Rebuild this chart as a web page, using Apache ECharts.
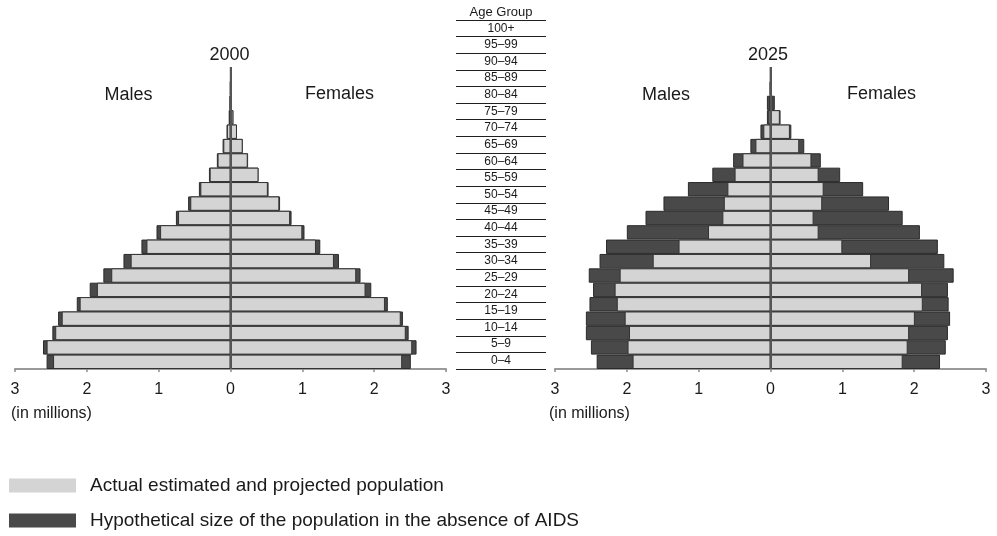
<!DOCTYPE html>
<html>
<head>
<meta charset="utf-8">
<script src="https://cdn.jsdelivr.net/npm/echarts@6/dist/echarts.min.js"></script>
<style>
  html, body { margin: 0; padding: 0; background: #ffffff; }
  #chart { width: 997px; height: 536px; }
</style>
</head>
<body>
<div id="chart"></div>
<script>
// Age groups, bottom (youngest) to top (oldest)
const ageGroups = ['0–4','5–9','10–14','15–19','20–24','25–29','30–34','35–39','40–44','45–49','50–54','55–59','60–64','65–69','70–74','75–79','80–84','85–89','90–94','95–99','100+'];

// 2000 (millions)
const male2000Actual   = [2.47, 2.56, 2.44, 2.35, 2.10, 1.86, 1.66, 1.39, 1.17, 0.98, 0.73, 0.56, 0.42, 0.29, 0.18, 0.10, 0.05, 0.02, 0.008, 0.003, 0.001];
const male2000NoAids   = [2.56, 2.61, 2.48, 2.40, 2.14, 1.96, 1.77, 1.49, 1.24, 1.03, 0.76, 0.59, 0.44, 0.30, 0.19, 0.11, 0.055, 0.025, 0.01, 0.004, 0.001];
const female2000Actual = [2.39, 2.53, 2.44, 2.37, 2.15, 1.88, 1.75, 1.44, 1.19, 1.00, 0.83, 0.68, 0.52, 0.39, 0.24, 0.17, 0.09, 0.04, 0.015, 0.005, 0.002];
const female2000NoAids = [2.51, 2.59, 2.48, 2.40, 2.19, 1.96, 1.81, 1.51, 1.25, 1.03, 0.85, 0.69, 0.53, 0.39, 0.245, 0.17, 0.09, 0.04, 0.015, 0.005, 0.002];

// 2025 (millions)
const male2025Actual   = [1.92, 1.99, 1.97, 2.03, 2.14, 2.17, 2.10, 1.64, 1.28, 0.87, 0.67, 0.65, 0.60, 0.50, 0.39, 0.21, 0.10, 0.03, 0.02, 0.005, 0.002];
const male2025NoAids   = [2.42, 2.50, 2.57, 2.57, 2.52, 2.47, 2.53, 2.38, 2.29, 2.00, 1.74, 1.49, 1.15, 0.81, 0.52, 0.28, 0.14, 0.05, 0.05, 0.008, 0.003];
const female2025Actual = [1.84, 1.91, 1.93, 2.01, 2.12, 2.11, 1.93, 1.40, 1.00, 0.67, 0.60, 0.72, 0.74, 0.67, 0.57, 0.40, 0.27, 0.13, 0.03, 0.01, 0.003];
const female2025NoAids = [2.36, 2.44, 2.47, 2.50, 2.48, 2.47, 2.55, 2.42, 2.33, 2.08, 1.84, 1.65, 1.29, 0.97, 0.70, 0.47, 0.29, 0.14, 0.06, 0.012, 0.004];

const ACTUAL = 'Actual estimated and projected population';
const NOAIDS = 'Hypothetical size of the population in the absence of AIDS';

const FONT = '"Liberation Sans", Arial, Helvetica, sans-serif';
const LIGHT = '#d4d4d4';
const DARK = '#494949';
const TXT = '#1a1a1a';

const chart = echarts.init(document.getElementById('chart'), null, { renderer: 'canvas' });

function xAxisFor(gridIndex) {
  return {
    type: 'value', gridIndex: gridIndex, min: -3, max: 3, interval: 1,
    axisLine: { show: true, onZero: false, lineStyle: { color: '#9a9a9a', width: 2 } },
    axisTick: { show: true, length: 3, lineStyle: { color: '#8a8a8a', width: 1.5 } },
    axisLabel: { color: TXT, fontSize: 16, fontFamily: FONT, margin: 13, formatter: v => String(Math.abs(v)) },
    splitLine: { show: false }
  };
}
function yAxisFor(gridIndex) {
  return {
    type: 'category', gridIndex: gridIndex, data: ageGroups,
    axisLine: { show: false }, axisTick: { show: false }, axisLabel: { show: false },
    splitLine: { show: false }
  };
}
function barSeries(name, axisIdx, values, sign, isDark, withCenter) {
  const s = {
    name: name, type: 'bar', xAxisIndex: axisIdx, yAxisIndex: axisIdx,
    data: values.map(v => sign * v),
    barGap: '-100%', barCategoryGap: '0%',
    itemStyle: {
      color: isDark ? DARK : LIGHT,
      borderColor: isDark ? '#2b2b2b' : '#333333',
      borderWidth: 1
    },
    emphasis: { disabled: true },
    silent: true
  };
  if (withCenter) {
    s.markLine = {
      silent: true, symbol: 'none', animation: false,
      label: { show: false },
      lineStyle: { color: '#555555', width: 2, type: 'solid' },
      data: [{ xAxis: 0 }]
    };
  }
  return s;
}

function txt(text, x, y, size, align) {
  return {
    type: 'text', x: x, y: y, silent: true,
    style: { text: text, fill: TXT, font: size + 'px ' + FONT, textAlign: align || 'center', textVerticalAlign: 'middle' }
  };
}

const option = {
  animation: false,
  backgroundColor: '#ffffff',
  textStyle: { fontFamily: FONT },
  grid: [
    { left: 15, top: 67, width: 431, height: 302 },
    { left: 555, top: 67, width: 431, height: 302 },
    { left: 456, top: 20, width: 90, height: 349 }
  ],
  xAxis: [
    xAxisFor(0),
    xAxisFor(1),
    { type: 'value', gridIndex: 2, show: false, min: 0, max: 1 }
  ],
  yAxis: [
    yAxisFor(0),
    yAxisFor(1),
    {
      type: 'category', gridIndex: 2, data: ageGroups,
      axisLine: { show: false }, axisTick: { show: false },
      axisLabel: { inside: true, margin: 45, align: 'center', color: TXT, fontSize: 12, fontFamily: FONT },
      splitLine: { show: true, lineStyle: { color: '#1f1f1f', width: 1.2 } }
    }
  ],
  legend: {
    orient: 'vertical', left: 9, top: 476, height: 120, width: 700, padding: 0,
    itemWidth: 67, itemHeight: 14, itemGap: 16,
    icon: 'rect',
    selectedMode: false,
    itemStyle: { borderWidth: 0 },
    textStyle: { color: TXT, fontSize: 19, lineHeight: 14, fontFamily: FONT, padding: [0, 0, 0, 9] },
    data: [
      { name: ACTUAL, itemStyle: { color: LIGHT, borderWidth: 0 } },
      { name: NOAIDS, itemStyle: { color: DARK, borderWidth: 0 } }
    ]
  },
  graphic: [
    txt('2000', 229.5, 55, 18),
    txt('Males', 128.5, 95, 18),
    txt('Females', 339.5, 94, 18),
    txt('2025', 768, 55, 18),
    txt('Males', 666, 95, 18),
    txt('Females', 881.5, 94, 18),
    txt('(in millions)', 11, 414, 16, 'left'),
    txt('(in millions)', 549, 414, 16, 'left'),
    txt('Age Group', 501, 12, 13)
  ],
  series: [
    barSeries(NOAIDS, 0, male2000NoAids, -1, true, false),
    barSeries(NOAIDS, 0, female2000NoAids, 1, true, false),
    barSeries(ACTUAL, 0, male2000Actual, -1, false, false),
    barSeries(ACTUAL, 0, female2000Actual, 1, false, true),
    barSeries(NOAIDS, 1, male2025NoAids, -1, true, false),
    barSeries(NOAIDS, 1, female2025NoAids, 1, true, false),
    barSeries(ACTUAL, 1, male2025Actual, -1, false, false),
    barSeries(ACTUAL, 1, female2025Actual, 1, false, true)
  ]
};

chart.setOption(option);
</script>
</body>
</html>
